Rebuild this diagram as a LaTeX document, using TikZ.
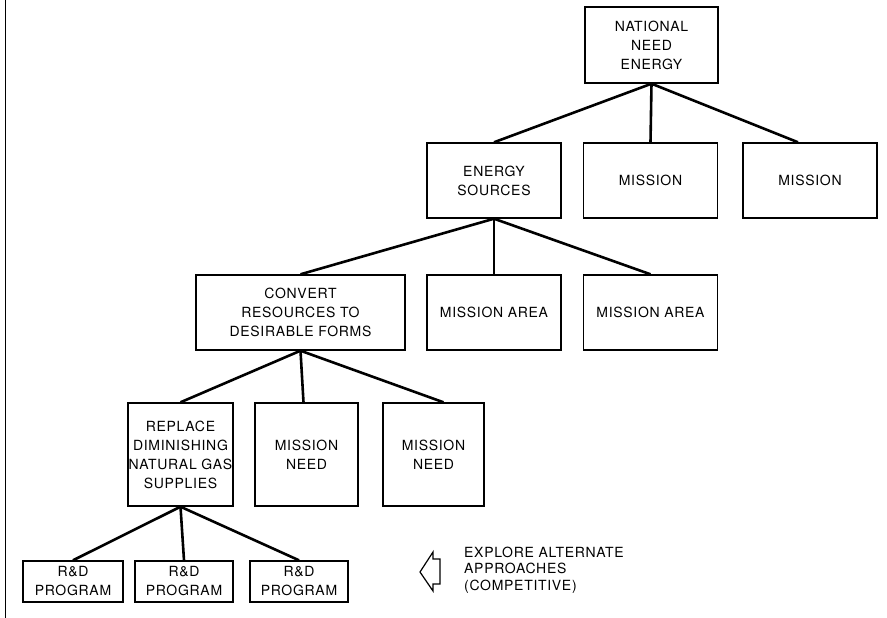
\documentclass[tikz,border=0pt]{standalone}
\usepackage{fontspec}
\newfontfamily\heros{TeX Gyre Heros}[LetterSpace=5]
\usepackage{tikz}
\usetikzlibrary{positioning}

\begin{document}
\begin{tikzpicture}[x=1pt, y=-1pt,
  chartbox/.style={draw, line width=1.4pt, align=center, inner sep=0pt,
    font=\heros\fontsize{14}{19}\selectfont},
  tierone/.style={chartbox, minimum width=133pt, minimum height=76pt},
  tiertwo/.style={chartbox, minimum width=134pt, minimum height=75pt},
  tierthree/.style={chartbox, minimum width=134pt, minimum height=75pt},
  tierfour/.style={chartbox, minimum width=103pt, minimum height=103pt},
  tierfive/.style={chartbox, minimum width=98pt, minimum height=41pt},
  tie/.style={line width=2.6pt}]
  \useasboundingbox (0,0) rectangle (887,618);
  % margin rule
  \draw[line width=0.9pt] (5,0) -- (5,618);

  % level 1
  \node[tierone] (nat) at (651.5,45) {NATIONAL\\NEED\\ENERGY};
  % level 2
  \node[tiertwo] (src) at (494,180.5) {ENERGY\\SOURCES};
  \node[tiertwo] (misa) at (650.5,180.5) {MISSION};
  \node[tiertwo] (misb) at (810,180.5) {MISSION};
  % level 3
  \node[tierthree, minimum width=209pt] (conv) at (300.5,312.5) {CONVERT\\RESOURCES TO\\DESIRABLE FORMS};
  \node[tierthree] (areaa) at (494,312.5) {MISSION AREA};
  \node[tierthree] (areab) at (650.5,312.5) {MISSION AREA};
  % level 4
  \node[tierfour, minimum width=105pt] (repl) at (180.5,454.5) {REPLACE\\DIMINISHING\\NATURAL GAS\\SUPPLIES};
  \node[tierfour] (needa) at (306.5,454.5) {MISSION\\NEED};
  \node[tierfour, minimum width=101pt] (needb) at (433.5,454.5) {MISSION\\NEED};
  % level 5
  \node[tierfive, minimum width=100pt] (rda) at (73,581.5) {R\&D\\PROGRAM};
  \node[tierfive] (rdb) at (184,581.5) {R\&D\\PROGRAM};
  \node[tierfive] (rdc) at (299,581.5) {R\&D\\PROGRAM};

  % connectors
  \draw[tie] (nat.south) -- (src.north);
  \draw[tie] (nat.south) -- (misa.north);
  \draw[tie] (nat.south) -- ([xshift=-12pt]misb.north);
  \draw[tie] (src.south) -- (conv.north);
  \draw[tie] (src.south) -- (areaa.north);
  \draw[tie] (src.south) -- (areab.north);
  \draw[tie] (conv.south) -- (repl.north);
  \draw[tie] (conv.south) -- ([xshift=-3pt]needa.north);
  \draw[tie] (conv.south) -- ([xshift=10pt]needb.north);
  \draw[tie] (repl.south) -- (rda.north);
  \draw[tie] (repl.south) -- (rdb.north);
  \draw[tie] (repl.south) -- (rdc.north);

  % legend
  \draw[line width=1.2pt] (420,572) -- (433,552) -- (433,559) -- (440,559)
    -- (440,584) -- (433,584) -- (433,591) -- cycle;
  \node[anchor=west, align=left, inner sep=0pt, font=\heros\fontsize{14}{16.5}\selectfont]
    (note) at (464,570) {EXPLORE ALTERNATE\\APPROACHES\\(COMPETITIVE)};
\end{tikzpicture}
\end{document}
